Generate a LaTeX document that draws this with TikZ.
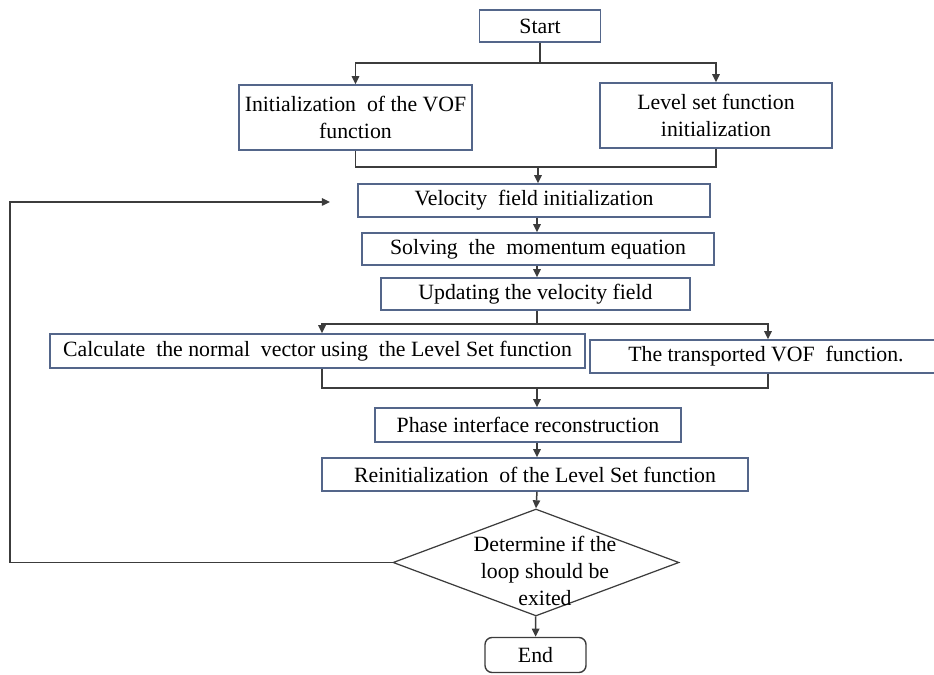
\documentclass[tikz,border=0pt]{standalone}
\usepackage{fontspec}
\setmainfont{Liberation Serif}
\usetikzlibrary{shapes.geometric, arrows.meta, calc}

\definecolor{boxline}{RGB}{84,102,138}
\definecolor{flowline}{RGB}{60,60,60}

\begin{document}
\begin{tikzpicture}[
    x=0.02cm, y=-0.02cm,
    >={Triangle[length=4.6pt,width=4.2pt]},
    every node/.style={font=\fontsize{12.4}{15.8}\selectfont},
    box/.style={draw=boxline, line width=0.8pt, inner sep=0pt, align=center},
    decision/.style={draw=flowline, line width=0.7pt, diamond, inner sep=0pt,
      minimum width=5.72cm, minimum height=2.14cm},
    flow/.style={draw=flowline, line width=0.85pt},
  ]
  \useasboundingbox (0,0) rectangle (934,675);

  % Boxes
  \node[box, minimum width=2.42cm, minimum height=0.64cm] (start) at (540,26) {Start};
  \node[box, minimum width=4.66cm, minimum height=1.3cm] (vof) at (355.5,117.5)
    {Initialization\ \ of the VOF\\function};
  \node[box, minimum width=4.64cm, minimum height=1.3cm] (ls) at (716,115.5)
    {Level set function\\initialization};
  \node[box, minimum width=7.04cm, minimum height=0.66cm] (vel) at (534,200.5)
    {Velocity\ \ field initialization};
  \node[box, minimum width=7.04cm, minimum height=0.64cm] (solve) at (538,249)
    {Solving\ \ the\ \ momentum equation};
  \node[box, minimum width=6.18cm, minimum height=0.64cm] (upd) at (535.5,294)
    {Updating the velocity field};
  \node[box, minimum width=10.7cm, minimum height=0.68cm] (normal) at (317.5,351)
    {Calculate\ \ the normal\ \ vector using\ \ the Level Set function};
  \node[box, minimum width=7.2cm, minimum height=0.66cm] (trans) at (770,356.5) {};
  \node at (766,356.5) {The transported VOF\ \ function.};
  \node[box, minimum width=6.12cm, minimum height=0.68cm] (phase) at (528,425)
    {Phase interface reconstruction};
  \node[box, minimum width=8.52cm, minimum height=0.66cm] (reinit) at (535,474.5)
    {Reinitialization\ \ of the Level Set function};
  \node[decision] (dec) at (536,562.5) {};
  \node[align=center, font=\fontsize{12.4}{15.3}\selectfont] (dectext) at (545,571)
    {Determine if the\\loop should be\\exited};
  \node[box, draw=flowline, rounded corners=4pt, minimum width=2.02cm, minimum height=0.7cm] (end) at (535.5,655) {End};

  % Junctions
  \coordinate (spine) at (537,0);
  \coordinate (j1) at (540,63);
  \coordinate (j2) at (538,167);
  \coordinate (j3) at (537,324);
  \coordinate (j4) at (537,388);
  \coordinate (leftx) at (10,0);
  \coordinate (back) at (330,202);

  % Connectors
  \draw[flow] (start) -- (j1);
  \draw[flow, ->] (j1) -| (vof);
  \draw[flow, ->] (j1) -| (ls);
  \draw[flow] (vof) |- (j2);
  \draw[flow] (ls) |- (j2);
  \draw[flow, ->] (j2) -- (j2 |- vel.north);
  \draw[flow, ->] (vel.south -| spine) -- (solve.north -| spine);
  \draw[flow, ->] (solve.south -| spine) -- (upd.north -| spine);
  \draw[flow] (upd.south -| spine) -- (j3);
  \draw[flow, ->] (j3) -| ($(normal.north)+(4.5,0)$);
  \draw[flow, ->] (j3) -| ($(trans.north)+(-2,0)$);
  \draw[flow] ($(normal.south)+(4.5,0)$) |- (j4);
  \draw[flow] ($(trans.south)+(-2,0)$) |- (j4);
  \draw[flow, ->] (j4) -- (phase.north -| spine);
  \draw[flow, ->] (phase.south -| spine) -- (reinit.north -| spine);
  \draw[flow, ->] (reinit.south -| spine) -- (dec.north);
  \draw[flow, ->] (dec) -- (end);
  \draw[flow, ->] (dec.west) -- (dec.west -| leftx) |- (back);
\end{tikzpicture}
\end{document}
